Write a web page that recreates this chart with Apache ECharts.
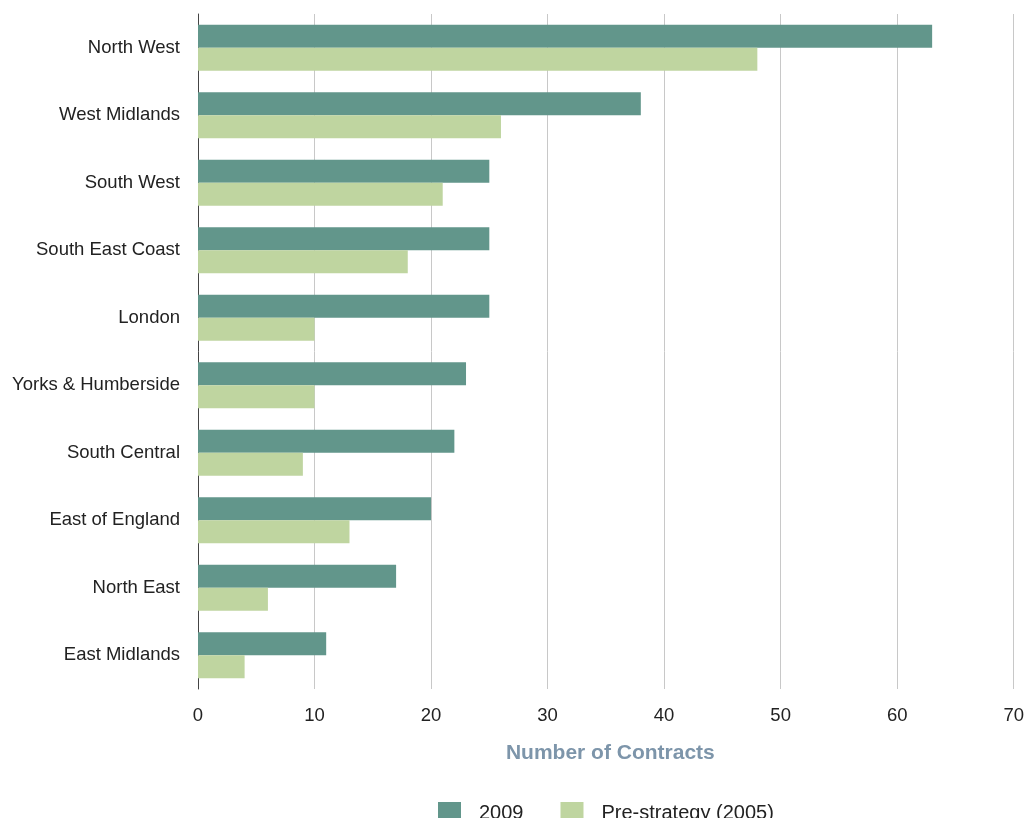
<!DOCTYPE html>
<html>
<head>
<meta charset="utf-8">
<script src="https://cdn.jsdelivr.net/npm/echarts@6/dist/echarts.min.js"></script>
<style>
html,body{margin:0;padding:0;background:#fff;}
#chart{width:1027px;height:818px;}
</style>
</head>
<body>
<div id="chart"></div>
<script>
const categories = ["North West","West Midlands","South West","South East Coast","London","Yorks & Humberside","South Central","East of England","North East","East Midlands"];
const values2009 = [63,38,25,25,25,23,22,20,17,11];
const values2005 = [48,26,21,18,10,10,9,13,6,4];
const xTicks = {min:0,max:70,interval:10};
const seriesNames = ["2009","Pre-strategy (2005)"];

const font = "'Liberation Sans', Arial, sans-serif";
const chart = echarts.init(document.getElementById('chart'));
chart.setOption({
  animation:false,
  textStyle:{fontFamily:font},
  grid:{left:198,right:8,top:14,bottom:129,containLabel:false},
  legend:{
    top:797,left:433,
    itemWidth:23,itemHeight:23,itemGap:37,
    icon:'rect',
    data:seriesNames,
    textStyle:{fontSize:20,color:'#222',fontFamily:font,padding:[0,0,0,13]}
  },
  xAxis:{
    type:'value',min:xTicks.min,max:xTicks.max,interval:xTicks.interval,
    axisLine:{show:false},axisTick:{show:false},
    splitLine:{show:true,lineStyle:{color:'#c8c8c8',width:1}},
    axisLabel:{fontSize:18.5,color:'#222',margin:17,fontFamily:font},
    name:'Number of Contracts',nameLocation:'middle',nameGap:54,
    nameTextStyle:{fontSize:21,fontWeight:'bold',color:'#7d95aa',fontFamily:font,padding:[0,0,0,9]}
  },
  yAxis:{
    type:'category',data:categories,inverse:true,
    axisLine:{show:true,lineStyle:{color:'#444',width:1}},
    axisTick:{show:false},
    axisLabel:{fontSize:18.5,color:'#222',margin:18,fontFamily:font}
  },
  series:[
    {name:seriesNames[0],type:'bar',data:values2009,barWidth:23,barGap:'0%',itemStyle:{color:'#62968b'}},
    {name:seriesNames[1],type:'bar',data:values2005,barWidth:23,barGap:'0%',itemStyle:{color:'#bfd5a0'}}
  ]
});
</script>
</body>
</html>
